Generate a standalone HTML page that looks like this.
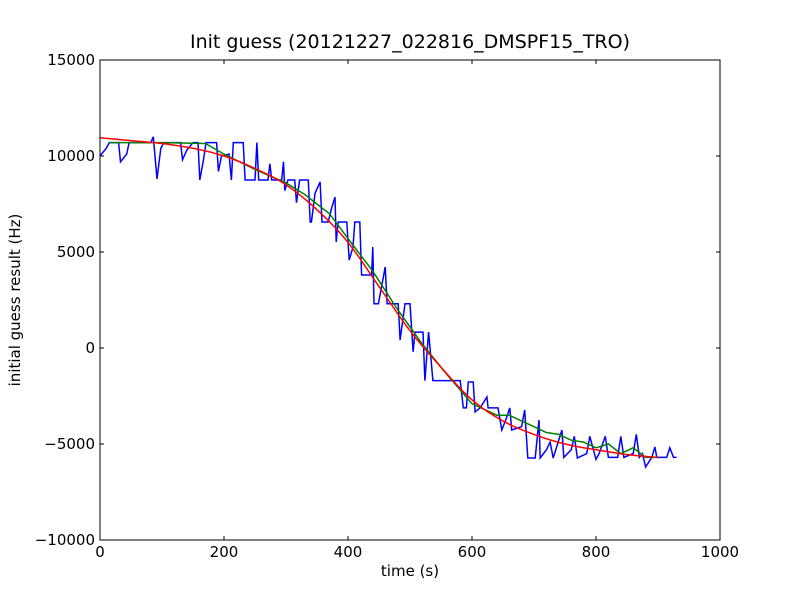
<!DOCTYPE html>
<html><head><meta charset="utf-8"><style>
body{margin:0;background:#fff;width:800px;height:600px;overflow:hidden;font-family:"Liberation Sans","DejaVu Sans",sans-serif}
</style></head><body>
<svg id="chart" width="800" height="600" xmlns="http://www.w3.org/2000/svg">
<rect x="0" y="0" width="800" height="600" fill="#fff"/>
<text x="410" y="48" font-size="19" text-anchor="middle" font-family="DejaVu Sans, sans-serif">Init guess (20121227_022816_DMSPF15_TRO)</text>
<g id="plot"></g>
<rect x="100" y="60" width="620" height="480" fill="none" stroke="#000" stroke-width="1"/>
<g id="ticks" font-family="DejaVu Sans, sans-serif" font-size="15"></g>
<text x="410" y="576" font-size="15" text-anchor="middle" font-family="DejaVu Sans, sans-serif">time (s)</text>
<text x="20" y="300" font-size="15" text-anchor="middle" transform="rotate(-90 20 300)" font-family="DejaVu Sans, sans-serif">initial guess result (Hz)</text>
</svg>
<script>
const xTicks=[0,200,400,600,800,1000];
const yTicks=[15000,10000,5000,0,-5000,-10000];
const yTickLabels=["15000","10000","5000","0","\u22125000","\u221210000"];
const blueT=[0,10,15,30,33,43,47,82,86,92,98,103,130,133,140,150,158,161,167,171,188,191,196,208,212,215,231,234,250,253,256,271,274,277,293,296,298,303,314,317,322,336,339,341,347,355,358,368,374,379,381,384,398,402,408,411,419,422,438,440,442,449,460,463,481,484,492,500,505,508,521,524,530,537,581,586,591,594,602,605,613,624,626,642,648,655,661,664,680,685,690,702,708,710,720,726,731,745,748,760,765,770,785,790,800,805,815,820,835,840,845,860,865,870,875,880,890,895,898,914,919,925,930];
const blueV=[10000,10400,10700,10700,9700,10100,10700,10700,11000,8800,10400,10700,10700,9800,10300,10700,10700,8750,9800,10700,10700,9200,10000,10100,8750,10700,10700,8750,8750,10700,8750,8750,9600,8750,8750,9700,8200,8750,8750,7570,8750,8750,6560,6560,8070,8650,6560,6560,7340,7860,5520,6560,6560,4580,5260,6560,6560,3800,3800,5260,2300,2300,4220,2300,2300,420,2300,2300,-200,830,830,-1700,830,-1700,-1700,-3120,-3120,-1770,-1770,-3330,-3120,-2550,-3120,-3120,-4270,-3700,-3120,-4270,-4100,-3230,-5730,-5730,-3750,-5730,-5300,-4900,-5730,-4270,-5700,-5300,-4600,-5730,-5500,-4600,-5800,-5500,-4600,-5700,-5700,-4600,-5700,-5500,-4500,-5700,-5500,-6200,-5700,-5150,-5700,-5700,-5200,-5700,-5700];
const greenT=[15,100,170,200,250,300,330,370,400,440,480,520,560,600,640,660,700,720,740,760,780,800,820,840,860,880,900];
const greenV=[10700,10700,10650,10100,9300,8600,8000,7000,5700,4000,2000,200,-1400,-2900,-3500,-3500,-4100,-4400,-4500,-4800,-4900,-5200,-5000,-5500,-5200,-5700,-5700];
const redT=[0,50,100,150,200,250,300,350,400,450,500,550,600,650,700,750,800,850,900];
const redV=[10950,10800,10650,10400,10000,9350,8500,7200,5500,3200,900,-1000,-2700,-3800,-4500,-5000,-5300,-5550,-5700];
const NS="http://www.w3.org/2000/svg";
const X=t=>100+t*0.62, Y=v=>540-(v+10000)*0.0192;
const plot=document.getElementById('plot'), ticks=document.getElementById('ticks');
function line(ts,vs,color,name){
  const p=document.createElementNS(NS,'polyline');
  p.setAttribute('points',ts.map((t,i)=>X(t).toFixed(1)+','+Y(vs[i]).toFixed(1)).join(' '));
  p.setAttribute('fill','none');p.setAttribute('stroke',color);p.setAttribute('stroke-width','1.5');
  
  
  plot.appendChild(p);
}
function smooth(ts,vs){const ot=[],ov=[];for(let i=0;i<ts.length-1;i++){const p0=i?i-1:i,p3=i+2<ts.length?i+2:i+1;for(let k=0;k<10;k++){const s=k/10,s2=s*s,s3=s2*s;const f=(a,b,c,d)=>0.5*(2*b+(-a+c)*s+(2*a-5*b+4*c-d)*s2+(-a+3*b-3*c+d)*s3);ot.push(f(ts[p0],ts[i],ts[i+1],ts[p3]));ov.push(f(vs[p0],vs[i],vs[i+1],vs[p3]));}}ot.push(ts[ts.length-1]);ov.push(vs[vs.length-1]);return[ot,ov];}
line(blueT,blueV,'#0000ff','blue-series-raw');
line(greenT,greenV,'#008000','green-series-smoothed');
const r=smooth(redT,redV);line(r[0],r[1],'#ff0000','red-series-fit');
function tk(x1,y1,x2,y2,name){const l=document.createElementNS(NS,'line');l.setAttribute('x1',x1);l.setAttribute('y1',y1);l.setAttribute('x2',x2);l.setAttribute('y2',y2);l.setAttribute('stroke','#000');


ticks.appendChild(l);}
function tx(x,y,s,a,name){const e=document.createElementNS(NS,'text');e.setAttribute('x',x);e.setAttribute('y',y);e.setAttribute('text-anchor',a);e.textContent=s;


ticks.appendChild(e);}
xTicks.forEach(t=>{const x=X(t);tk(x,540,x,536,'x-tick');tk(x,60,x,64,'x-tick-top');tx(x,557,String(t),'middle','x-tick-label');});
yTicks.forEach((v,i)=>{const y=Y(v);tk(100,y,104,y,'y-tick');tk(720,y,716,y,'y-tick-right');tx(95,y+5,yTickLabels[i],'end','y-tick-label');});
</script>
</body></html>
